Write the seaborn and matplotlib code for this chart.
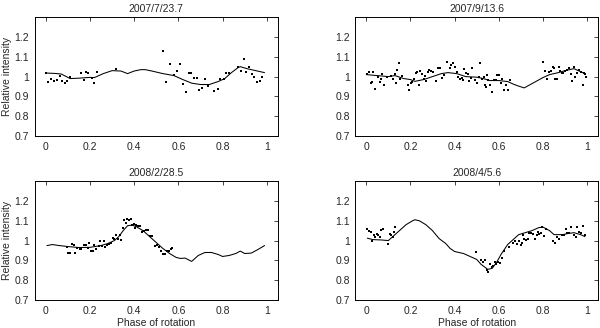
import matplotlib
matplotlib.use("Agg")
import matplotlib.pyplot as plt
import seaborn as sns
from matplotlib.ticker import FuncFormatter

# --- 2007/7/23.7 ---
obs1_x = [0.0, 0.012, 0.024, 0.038, 0.05, 0.062, 0.073, 0.086, 0.098, 0.109,
          0.157, 0.172, 0.183, 0.193, 0.208, 0.22, 0.233, 0.317, 0.529, 0.545,
          0.56, 0.582, 0.595, 0.609, 0.621, 0.633, 0.647, 0.659, 0.671, 0.683,
          0.695, 0.707, 0.719, 0.733, 0.76, 0.778, 0.79, 0.805, 0.816, 0.828,
          0.872, 0.882, 0.897, 0.908, 0.92, 0.932, 0.944, 0.956, 0.968, 0.98]
obs1_y = [1.02, 0.975, 0.99, 0.98, 0.985, 1.005, 0.98, 0.97, 0.978, 0.997,
          1.02, 0.985, 1.025, 1.02, 0.995, 0.97, 1.025, 1.04, 1.13, 0.973,
          1.065, 1.01, 1.03, 1.065, 0.965, 0.92, 1.017, 1.017, 0.993, 0.995,
          0.93, 0.945, 0.99, 0.953, 0.925, 0.935, 0.99, 0.99, 1.02, 1.02,
          1.05, 1.03, 1.087, 1.022, 1.05, 1.015, 1.0, 0.975, 0.98, 1.0]
mod1_x = [0.0, 0.04, 0.07, 0.11, 0.15, 0.2, 0.22, 0.26, 0.3, 0.34, 0.37, 0.4,
          0.43, 0.45, 0.48, 0.53, 0.58, 0.62, 0.66, 0.7, 0.74, 0.78, 0.81,
          0.84, 0.87, 0.88, 0.91, 0.95, 0.99]
mod1_y = [1.018, 1.016, 1.013, 0.99, 0.992, 0.996, 0.995, 1.015, 1.03, 1.028,
          1.015, 1.028, 1.035, 1.035, 1.028, 1.015, 1.005, 0.985, 0.967, 0.96,
          0.96, 0.975, 0.99, 1.02, 1.045, 1.05, 1.04, 1.03, 1.02]

# --- 2007/9/13.6 ---
obs2_x = [0.005, 0.012, 0.02, 0.026, 0.032, 0.038, 0.053, 0.06, 0.068, 0.072,
          0.08, 0.092, 0.114, 0.122, 0.129, 0.135, 0.141, 0.147, 0.155, 0.162,
          0.189, 0.195, 0.203, 0.209, 0.217, 0.223, 0.23, 0.238, 0.245, 0.253,
          0.26, 0.266, 0.272, 0.278, 0.284, 0.293, 0.302, 0.314, 0.326, 0.335,
          0.343, 0.35, 0.367, 0.377, 0.383, 0.394, 0.4, 0.409, 0.417, 0.424,
          0.432, 0.438, 0.444, 0.451, 0.459, 0.465, 0.472, 0.48, 0.492, 0.501,
          0.51, 0.516, 0.523, 0.531, 0.537, 0.541, 0.546, 0.553, 0.561, 0.57,
          0.579, 0.586, 0.594, 0.602, 0.609, 0.615, 0.623, 0.633, 0.642, 0.651,
          0.802, 0.809, 0.819, 0.829, 0.835, 0.844, 0.85, 0.856, 0.863, 0.871,
          0.878, 0.886, 0.892, 0.899, 0.907, 0.916, 0.925, 0.932, 0.94, 0.946,
          0.953, 0.964, 0.974, 0.982, 0.986, 0.992, 0.997]
obs2_y = [1.013, 1.025, 0.967, 0.973, 1.025, 0.937, 0.997, 0.975, 0.99, 1.012,
          0.957, 0.998, 1.005, 0.987, 1.013, 0.967, 1.033, 1.067, 0.987, 1.003,
          0.957, 0.933, 0.967, 0.973, 0.987, 1.02, 1.025, 0.959, 1.03, 1.013,
          0.987, 1.003, 0.978, 1.024, 1.032, 1.03, 1.025, 0.976, 1.044, 1.044,
          0.992, 1.01, 1.072, 1.042, 1.057, 1.068, 1.047, 1.025, 0.997, 0.987,
          0.993, 0.983, 1.037, 1.02, 1.013, 0.976, 0.992, 1.045, 0.983, 0.967,
          1.0, 1.067, 0.99, 1.0, 0.96, 0.946, 1.01, 0.983, 0.957, 0.92,
          0.983, 0.983, 1.01, 1.007, 0.967, 0.987, 0.933, 0.957, 0.93, 0.983,
          1.072, 1.03, 0.99, 1.024, 1.03, 1.05, 1.042, 0.99, 0.99, 1.05,
          1.027, 1.017, 1.02, 1.027, 1.034, 1.042, 1.013, 0.98, 1.05, 1.0,
          1.017, 1.034, 1.025, 0.957, 1.017, 1.013, 0.997]
mod2_x = [0.0, 0.05, 0.1, 0.13, 0.17, 0.2, 0.22, 0.26, 0.3, 0.34, 0.37, 0.41,
          0.45, 0.5, 0.53, 0.56, 0.6, 0.64, 0.67, 0.69, 0.715, 0.8, 0.83, 0.87,
          0.9, 0.94, 0.96, 0.99]
mod2_y = [1.01, 1.005, 1.0, 1.005, 0.99, 0.985, 0.976, 0.985, 1.0, 1.015,
          1.02, 1.015, 1.0, 0.997, 0.99, 0.98, 0.98, 0.975, 0.96, 0.952,
          0.943, 0.995, 1.01, 1.02, 1.03, 1.04, 1.03, 1.015]

# --- 2008/2/28.5 ---
obs3_x = [0.095, 0.1, 0.11, 0.12, 0.128, 0.134, 0.143, 0.153, 0.16, 0.171,
          0.18, 0.189, 0.195, 0.204, 0.213, 0.22, 0.228, 0.24, 0.245, 0.254,
          0.263, 0.27, 0.278, 0.284, 0.293, 0.302, 0.31, 0.317, 0.326, 0.334,
          0.341, 0.347, 0.353, 0.361, 0.367, 0.376, 0.384, 0.391, 0.397, 0.403,
          0.409, 0.418, 0.427, 0.436, 0.443, 0.452, 0.461, 0.471, 0.482, 0.492,
          0.503, 0.512, 0.521, 0.53, 0.539, 0.548, 0.557, 0.565, 0.57]
obs3_y = [0.97, 0.937, 0.937, 0.983, 0.977, 0.937, 0.963, 0.958, 0.96, 0.98,
          0.98, 0.963, 0.99, 0.947, 0.95, 0.977, 0.958, 0.973, 0.997, 0.973,
          0.997, 0.97, 0.977, 0.983, 0.987, 1.013, 1.007, 1.03, 1.007, 1.03,
          1.003, 1.065, 1.102, 1.09, 1.11, 1.102, 1.108, 1.078, 1.085, 1.062,
          1.077, 1.072, 1.075, 1.044, 1.05, 1.055, 1.052, 1.025, 1.025, 0.973,
          0.977, 0.967, 0.95, 0.933, 0.93, 0.946, 0.946, 0.957, 0.963]
mod3_x = [0.005, 0.03, 0.06, 0.1, 0.15, 0.2, 0.25, 0.28, 0.31, 0.33, 0.35,
          0.37, 0.39, 0.41, 0.44, 0.47, 0.5, 0.53, 0.56, 0.59, 0.61, 0.63,
          0.66, 0.69, 0.72, 0.75, 0.78, 0.8, 0.83, 0.86, 0.88, 0.9, 0.93,
          0.96, 0.99]
mod3_y = [0.975, 0.98, 0.975, 0.97, 0.965, 0.966, 0.975, 0.985, 1.0, 1.02,
          1.05, 1.075, 1.078, 1.07, 1.05, 1.02, 0.99, 0.96, 0.935, 0.915,
          0.91, 0.912, 0.895, 0.925, 0.94, 0.94, 0.93, 0.92, 0.925, 0.935,
          0.947, 0.935, 0.937, 0.955, 0.975]

# --- 2008/4/5.6 ---
obs4_x = [0.005, 0.012, 0.02, 0.026, 0.033, 0.041, 0.048, 0.054, 0.062, 0.069,
          0.077, 0.098, 0.107, 0.113, 0.119, 0.125, 0.132, 0.496, 0.52, 0.528,
          0.537, 0.546, 0.552, 0.559, 0.567, 0.574, 0.582, 0.589, 0.597, 0.606,
          0.615, 0.624, 0.648, 0.666, 0.674, 0.683, 0.692, 0.7, 0.705, 0.71,
          0.714, 0.723, 0.731, 0.738, 0.746, 0.755, 0.764, 0.771, 0.776, 0.783,
          0.791, 0.797, 0.804, 0.812, 0.847, 0.854, 0.865, 0.874, 0.887, 0.895,
          0.902, 0.911, 0.919, 0.929, 0.941, 0.949, 0.955, 0.964, 0.971, 0.982,
          0.991]
obs4_y = [1.057, 1.05, 1.044, 0.997, 1.03, 1.017, 1.034, 1.03, 1.02, 1.054,
          1.057, 0.983, 1.034, 1.03, 1.017, 1.042, 1.07, 0.944, 0.9, 0.893,
          0.9, 0.853, 0.84, 0.883, 0.867, 0.87, 0.893, 0.883, 0.89, 0.887,
          0.914, 0.947, 0.97, 0.987, 1.0, 0.983, 0.997, 0.977, 0.99, 1.027,
          1.01, 1.003, 1.01, 1.04, 1.04, 1.034, 1.01, 1.027, 1.044, 1.034,
          1.037, 1.07, 1.025, 1.057, 0.997, 0.99, 1.017, 1.007, 1.03, 1.03,
          1.057, 1.04, 1.04, 1.067, 1.03, 1.017, 1.067, 1.044, 1.037, 1.074,
          1.027]
mod4_x = [0.005, 0.03, 0.07, 0.1, 0.12, 0.15, 0.18, 0.21, 0.22, 0.24, 0.27,
          0.3, 0.33, 0.36, 0.38, 0.4, 0.44, 0.47, 0.5, 0.52, 0.55, 0.57, 0.59,
          0.61, 0.64, 0.67, 0.69, 0.72, 0.75, 0.78, 0.8, 0.83, 0.85, 0.89,
          0.91, 0.94, 0.97, 0.99]
mod4_y = [1.012, 1.005, 1.003, 1.0, 1.02, 1.05, 1.08, 1.1, 1.105, 1.1, 1.08,
          1.05, 1.01, 0.985, 0.96, 0.945, 0.935, 0.92, 0.905, 0.88, 0.855,
          0.86, 0.89, 0.93, 0.98, 1.01, 1.03, 1.04, 1.05, 1.065, 1.068, 1.05,
          1.03, 1.03, 1.035, 1.04, 1.03, 1.02]

titles = ["2007/7/23.7", "2007/9/13.6", "2008/2/28.5", "2008/4/5.6"]
panels = [(obs1_x, obs1_y, mod1_x, mod1_y),
          (obs2_x, obs2_y, mod2_x, mod2_y),
          (obs3_x, obs3_y, mod3_x, mod3_y),
          (obs4_x, obs4_y, mod4_x, mod4_y)]

sns.set_style("white")
plt.rcParams['font.family'] = ['Liberation Sans', 'DejaVu Sans']

fig = plt.figure(figsize=(6, 3.28), dpi=100)
# left, bottom of each axes in figure fraction
boxes = [(0.058, 0.585), (0.592, 0.585), (0.058, 0.085), (0.592, 0.085)]

fmt = FuncFormatter(lambda v, p: f"{v:g}")
for i, (ox, oy, mx, my) in enumerate(panels):
    ax = fig.add_axes([boxes[i][0], boxes[i][1], 0.405, 0.363])
    sns.lineplot(x=mx, y=my, ax=ax, color="black", lw=0.75, sort=False,
                 estimator=None)
    sns.scatterplot(x=ox, y=oy, ax=ax, color="black", marker="s", s=3,
                    linewidth=0)
    ax.set_xlim(-0.05, 1.05)
    ax.set_ylim(0.7, 1.3)
    ax.set_xticks([0, 0.2, 0.4, 0.6, 0.8, 1])
    ax.set_yticks([0.7, 0.8, 0.9, 1.0, 1.1, 1.2])
    ax.xaxis.set_major_formatter(fmt)
    ax.yaxis.set_major_formatter(fmt)
    ax.tick_params(direction="in", length=3, width=0.6, labelsize=7.5,
                   top=True, right=True, pad=4)
    for s in ax.spines.values():
        s.set_linewidth(0.7)
        s.set_color("black")
    ax.set_title(titles[i], fontsize=7.5, pad=4)
    if i % 2 == 0:
        ax.set_ylabel("Relative intensity", fontsize=7.5, labelpad=2)
    if i >= 2:
        ax.set_xlabel("Phase of rotation", fontsize=7.5, labelpad=2)

plt.savefig("out.png", dpi=100)
plt.close()
